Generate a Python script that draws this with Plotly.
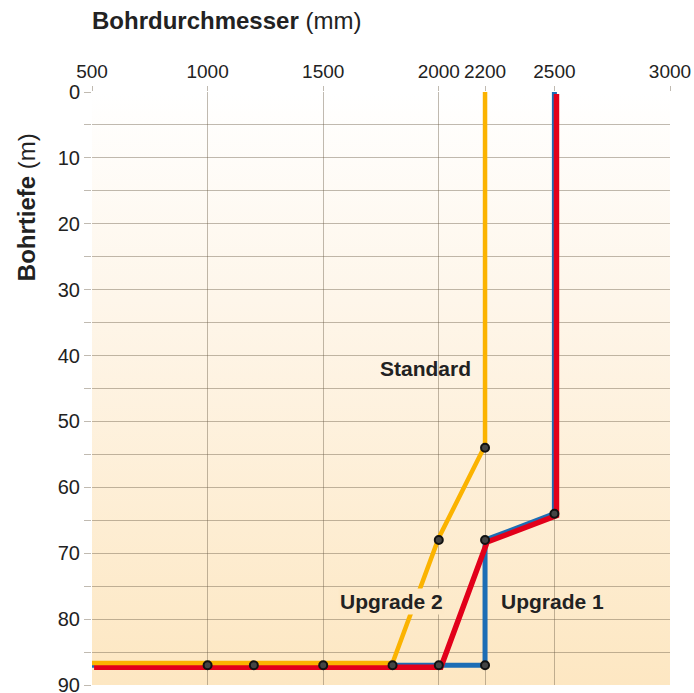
import base64
import plotly.graph_objects as go

# Bohrdurchmesser (mm) / Bohrtiefe (m)
standard_x = [2200, 2200, 2000, 1800, 500]
standard_y = [0, 54, 68, 87, 87]

upgrade1_x = [2500, 2500, 2200, 2200, 500]
upgrade1_y = [0, 64, 68, 87, 87]

upgrade2_x = [2500, 2500, 2200, 2000, 500]
upgrade2_y = [0, 64, 68, 87, 87]

punkte_x = [2200, 2000, 2500, 2200, 2200, 2000, 1800, 1500, 1200, 1000]
punkte_y = [54, 68, 64, 68, 87, 87, 87, 87, 87, 87]

x_ticks = [500, 1000, 1500, 2000, 2200, 2500, 3000]
y_ticks = list(range(0, 95, 5))
y_labels = [str(v) if v % 10 == 0 else "" for v in y_ticks]

x_range = [500, 3000]
y_range = [90, 0]

font = "Liberation Sans, Arial, sans-serif"
grid = "rgba(105,90,70,0.42)"
gelb = "#fbb300"
blau = "#1c6db5"
rot = "#e2001a"

# Hintergrund: vertikaler Verlauf weiss -> hellorange (als SVG-Bild unter dem Gitter)
svg = ('<svg xmlns="http://www.w3.org/2000/svg" width="100" height="100" preserveAspectRatio="none">'
       '<defs><linearGradient id="g" x1="0" y1="0" x2="0" y2="1">'
       '<stop offset="0" stop-color="#ffffff"/><stop offset="0.35" stop-color="#fef6ea"/>'
       '<stop offset="1" stop-color="#fde7c2"/></linearGradient></defs>'
       '<rect width="100" height="100" fill="url(#g)"/></svg>')
bg_src = "data:image/svg+xml;base64," + base64.b64encode(svg.encode()).decode()

fig = go.Figure()

# Upgrade 1 auf der Hauptachse (unterste Ebene)
fig.add_trace(go.Scatter(x=upgrade1_x, y=upgrade1_y, mode="lines", name="Upgrade 1",
                         line=dict(color=blau, width=5)))
# Upgrade 2 leicht versetzt, damit Upgrade 1 sichtbar bleibt
fig.add_trace(go.Scatter(x=upgrade2_x, y=upgrade2_y, mode="lines", name="Upgrade 2",
                         line=dict(color=rot, width=5.5), xaxis="x2", yaxis="y2"))
# Standard etwas nach oben versetzt
fig.add_trace(go.Scatter(x=standard_x, y=standard_y, mode="lines", name="Standard",
                         line=dict(color=gelb, width=4.5), xaxis="x3", yaxis="y3"))
# Messpunkte ganz oben
fig.add_trace(go.Scatter(x=punkte_x, y=punkte_y, mode="markers", xaxis="x4", yaxis="y4",
                         marker=dict(size=8, color="#444", line=dict(color="#111", width=2)),
                         hoverinfo="skip"))

fig.add_layout_image(dict(source=bg_src, xref="paper", yref="paper", x=0, y=1,
                          sizex=1, sizey=1, sizing="stretch", xanchor="left", yanchor="top",
                          layer="below"))

fig.update_layout(
    width=694, height=693,
    margin=dict(l=92, r=24, t=92, b=8, autoexpand=False),
    showlegend=False,
    paper_bgcolor="white", plot_bgcolor="rgba(0,0,0,0)",
    font=dict(family=font, size=20, color="#222"),
    xaxis=dict(range=x_range, side="top", tickvals=x_ticks, tickangle=0, showgrid=True,
               tickfont=dict(size=19),
               gridcolor=grid, gridwidth=1, zeroline=False, showline=False, automargin=False,
               ticks="outside", ticklen=5, tickcolor=grid, ticklabeloverflow="allow"),
    yaxis=dict(range=y_range, tickvals=y_ticks, ticktext=y_labels, showgrid=True,
               gridcolor=grid, gridwidth=1, zeroline=False, showline=False, automargin=False,
               ticks="outside", ticklen=7, tickcolor=grid, ticklabeloverflow="allow"),
    xaxis2=dict(range=[x_range[0] - 9, x_range[1] - 9], overlaying="x", visible=False),
    yaxis2=dict(range=[y_range[0] - 0.3, y_range[1] - 0.3], overlaying="y", visible=False),
    xaxis3=dict(range=x_range, overlaying="x", visible=False),
    yaxis3=dict(range=[y_range[0] + 0.35, y_range[1] + 0.35], overlaying="y", visible=False),
    xaxis4=dict(range=x_range, overlaying="x", visible=False),
    yaxis4=dict(range=y_range, overlaying="y", visible=False),
)

fig.add_annotation(text="<b>Bohrdurchmesser</b> (mm)", xref="paper", yref="paper",
                   x=-0.004, y=1.12, xanchor="left", yanchor="middle",
                   showarrow=False, font=dict(size=24, color="#222"))
fig.add_annotation(text="<b>Bohrtiefe</b> (m)", xref="paper", yref="paper",
                   x=-0.114, y=0.806, xanchor="center", yanchor="middle", textangle=-90,
                   showarrow=False, font=dict(size=24, color="#222"))

fig.add_annotation(text="<b>Standard</b>", x=1942, y=42, showarrow=False,
                   font=dict(size=21, color="#222"))
fig.add_annotation(text="<b>Upgrade 2</b>", x=1795, y=77.4, showarrow=False,
                   bgcolor="#fde9c8", font=dict(size=21, color="#222"))
fig.add_annotation(text="<b>Upgrade 1</b>", x=2490, y=77.4, showarrow=False,
                   font=dict(size=21, color="#222"))

# Browser-Standardrand der Seite entfernen, damit die Grafik bei (0,0) beginnt
fig.write_html("out.html", config={"displayModeBar": False},
               post_script="document.body.style.margin='0';document.body.style.overflow='hidden';")
